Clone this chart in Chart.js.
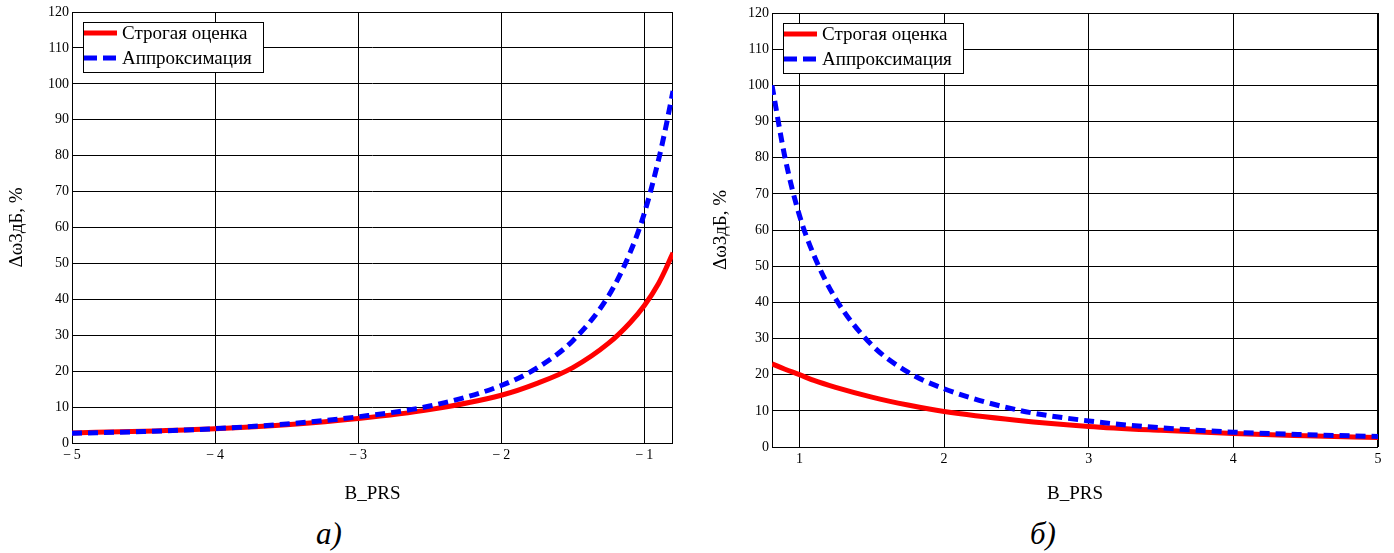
<!DOCTYPE html>
<html>
<head>
<meta charset="utf-8">
<script src="https://cdn.jsdelivr.net/npm/chart.js@4.4.1/dist/chart.umd.min.js"></script>
<style>
  body { margin: 0; background: #fff; width: 1394px; height: 553px; overflow: hidden; position: relative; }
  .panel { position: absolute; top: 0; width: 697px; height: 513px; }
  .caption { position: absolute; font: italic 31px "Liberation Serif", serif; color: #000; line-height: 36px; }
</style>
</head>
<body>
<div class="panel" style="left:0"><canvas id="chartA" width="697" height="513"></canvas></div>
<div class="panel" style="left:697px"><canvas id="chartB" width="697" height="513"></canvas></div>
<div class="caption" id="capA" style="left:316px; top:516px"></div>
<div class="caption" id="capB" style="left:1030px; top:516px"></div>
<script>
// data
const seriesNames = ['Строгая оценка', 'Аппроксимация'];
const captions = ['а)', 'б)'];
const xTitle = 'B_PRS';
const yTitle = 'Δω3дБ, %';

// panel a) : B_PRS from -5 to -0.8
const xA = [-5, -4.5, -4, -3.5, -3, -2.5, -2, -1.75, -1.5, -1.25, -1.1, -1, -0.9, -0.85, -0.8];
const strictA = [2.8, 3.3, 4.0, 5.1, 6.8, 9.3, 13.3, 16.6, 21.0, 27.8, 33.5, 38.3, 44.5, 48.5, 53];
const approxA = [2.7, 3.2, 4.0, 5.3, 7.3, 10.3, 16.0, 20.9, 28.5, 41, 53, 64, 79, 88, 98];

// panel б) : B_PRS from 0.81 to 5
const xB = [0.81, 0.9, 1, 1.1, 1.25, 1.5, 1.75, 2, 2.5, 3, 3.5, 4, 4.5, 5];
const strictB = [23, 21.5, 20, 18.4, 16.5, 13.8, 11.6, 9.8, 7.4, 5.7, 4.6, 3.7, 3.1, 2.6];
const approxB = [100, 80, 64, 53, 41, 28.2, 20.7, 16.1, 10.3, 7.2, 5.3, 4.1, 3.4, 2.9];

const yTicks = [0, 10, 20, 30, 40, 50, 60, 70, 80, 90, 100, 110, 120];
const xTicksA = [-5, -4, -3, -2, -1];
const xTicksB = [1, 2, 3, 4, 5];

document.getElementById('capA').textContent = captions[0];
document.getElementById('capB').textContent = captions[1];

const serif = '"Liberation Serif", "Times New Roman", serif';

// frame around the plot area
const frame = {
    id: 'frame',
    beforeDatasetsDraw(chart) {
        const a = chart.chartArea, ctx = chart.ctx;
        ctx.save();
        ctx.strokeStyle = '#000';
        ctx.lineWidth = 1;
        ctx.strokeRect(Math.round(a.left) + 0.5, Math.round(a.top) + 0.5,
            Math.round(a.right - a.left) - 1, Math.round(a.bottom - a.top));
        ctx.restore();
    }
};

// boxed legend inside the plot, top-left
const boxLegend = {
    id: 'boxLegend',
    afterDatasetsDraw(chart) {
        const a = chart.chartArea, ctx = chart.ctx;
        const x = Math.round(a.left) + 11, y = Math.round(a.top) + 10;
        const w = 180, h = 50;
        ctx.save();
        ctx.fillStyle = '#fff';
        ctx.fillRect(x, y, w, h);
        ctx.strokeStyle = '#000';
        ctx.lineWidth = 1;
        ctx.strokeRect(x + 0.5, y + 0.5, w, h);
        chart.data.datasets.forEach((ds, i) => {
            const ly = y + 11 + i * 25;
            ctx.beginPath();
            ctx.strokeStyle = ds.borderColor;
            ctx.lineWidth = 5;
            ctx.setLineDash(ds.borderDash && ds.borderDash.length ? [13, 6] : []);
            ctx.moveTo(x + 1, ly);
            ctx.lineTo(x + 34, ly);
            ctx.stroke();
            ctx.setLineDash([]);
            ctx.fillStyle = '#000';
            ctx.font = '19px ' + serif;
            ctx.textBaseline = 'middle';
            ctx.fillText(ds.label, x + 39, ly + 1);
        });
        ctx.restore();
    }
};

function fmtX(v) {
    return v < 0 ? '\u2212\u2009' + Math.abs(v) : String(v);
}

function drawPanel(id, xs, strict, approx, xMin, xMax, xTicks, box) {
    const ctx = document.getElementById(id);
    new Chart(ctx, {
        type: 'line',
        data: {
            datasets: [{
                label: seriesNames[0],
                data: xs.map((x, i) => ({ x: x, y: strict[i] })),
                borderColor: '#ff0000',
                borderWidth: 5,
                pointRadius: 0,
                cubicInterpolationMode: 'monotone',
                fill: false,
                order: 1
            }, {
                label: seriesNames[1],
                data: xs.map((x, i) => ({ x: x, y: approx[i] })),
                borderColor: '#0000ff',
                borderWidth: 5,
                borderDash: [10, 6],
                pointRadius: 0,
                cubicInterpolationMode: 'monotone',
                fill: false,
                order: 0
            }]
        },
        options: {
            responsive: false,
            animation: false,
            events: [],
            layout: { padding: { top: box.top, right: box.right, left: 0, bottom: 0 } },
            plugins: {
                legend: { display: false },
                tooltip: { enabled: false }
            },
            scales: {
                x: {
                    type: 'linear',
                    min: xMin,
                    max: xMax,
                    afterBuildTicks: s => { s.ticks = xTicks.map(v => ({ value: v })); },
                    afterFit: s => { s.height = box.xh; },
                    border: { display: false },
                    grid: { color: '#000', lineWidth: 1, drawTicks: false },
                    ticks: {
                        autoSkip: false, maxRotation: 0, padding: 4,
                        color: '#000', font: { family: serif, size: 14 },
                        callback: v => fmtX(v)
                    },
                    title: {
                        display: true, text: xTitle, color: '#000',
                        font: { family: serif, size: 19 },
                        padding: { top: 0, bottom: 8 }
                    }
                },
                y: {
                    min: 0,
                    max: 120,
                    afterBuildTicks: s => { s.ticks = yTicks.map(v => ({ value: v })); },
                    afterFit: s => { s.width = box.yw; },
                    border: { display: false },
                    grid: { color: '#000', lineWidth: 1, drawTicks: false },
                    ticks: {
                        autoSkip: false, padding: 3,
                        color: '#000', font: { family: serif, size: 14 }
                    },
                    title: {
                        display: true, text: yTitle, color: '#000',
                        font: { family: serif, size: 19 },
                        padding: { top: box.yt, bottom: 0 }
                    }
                }
            }
        },
        plugins: [frame, boxLegend]
    });
}

drawPanel('chartA', xA, strictA, approxA, -5, -0.8, xTicksA, { top: 12, right: 24, xh: 70, yw: 72, yt: 6 });
drawPanel('chartB', xB, strictB, approxB, 0.81, 5, xTicksB, { top: 13, right: 16, xh: 66, yw: 75, yt: 13 });
</script>
</body>
</html>
